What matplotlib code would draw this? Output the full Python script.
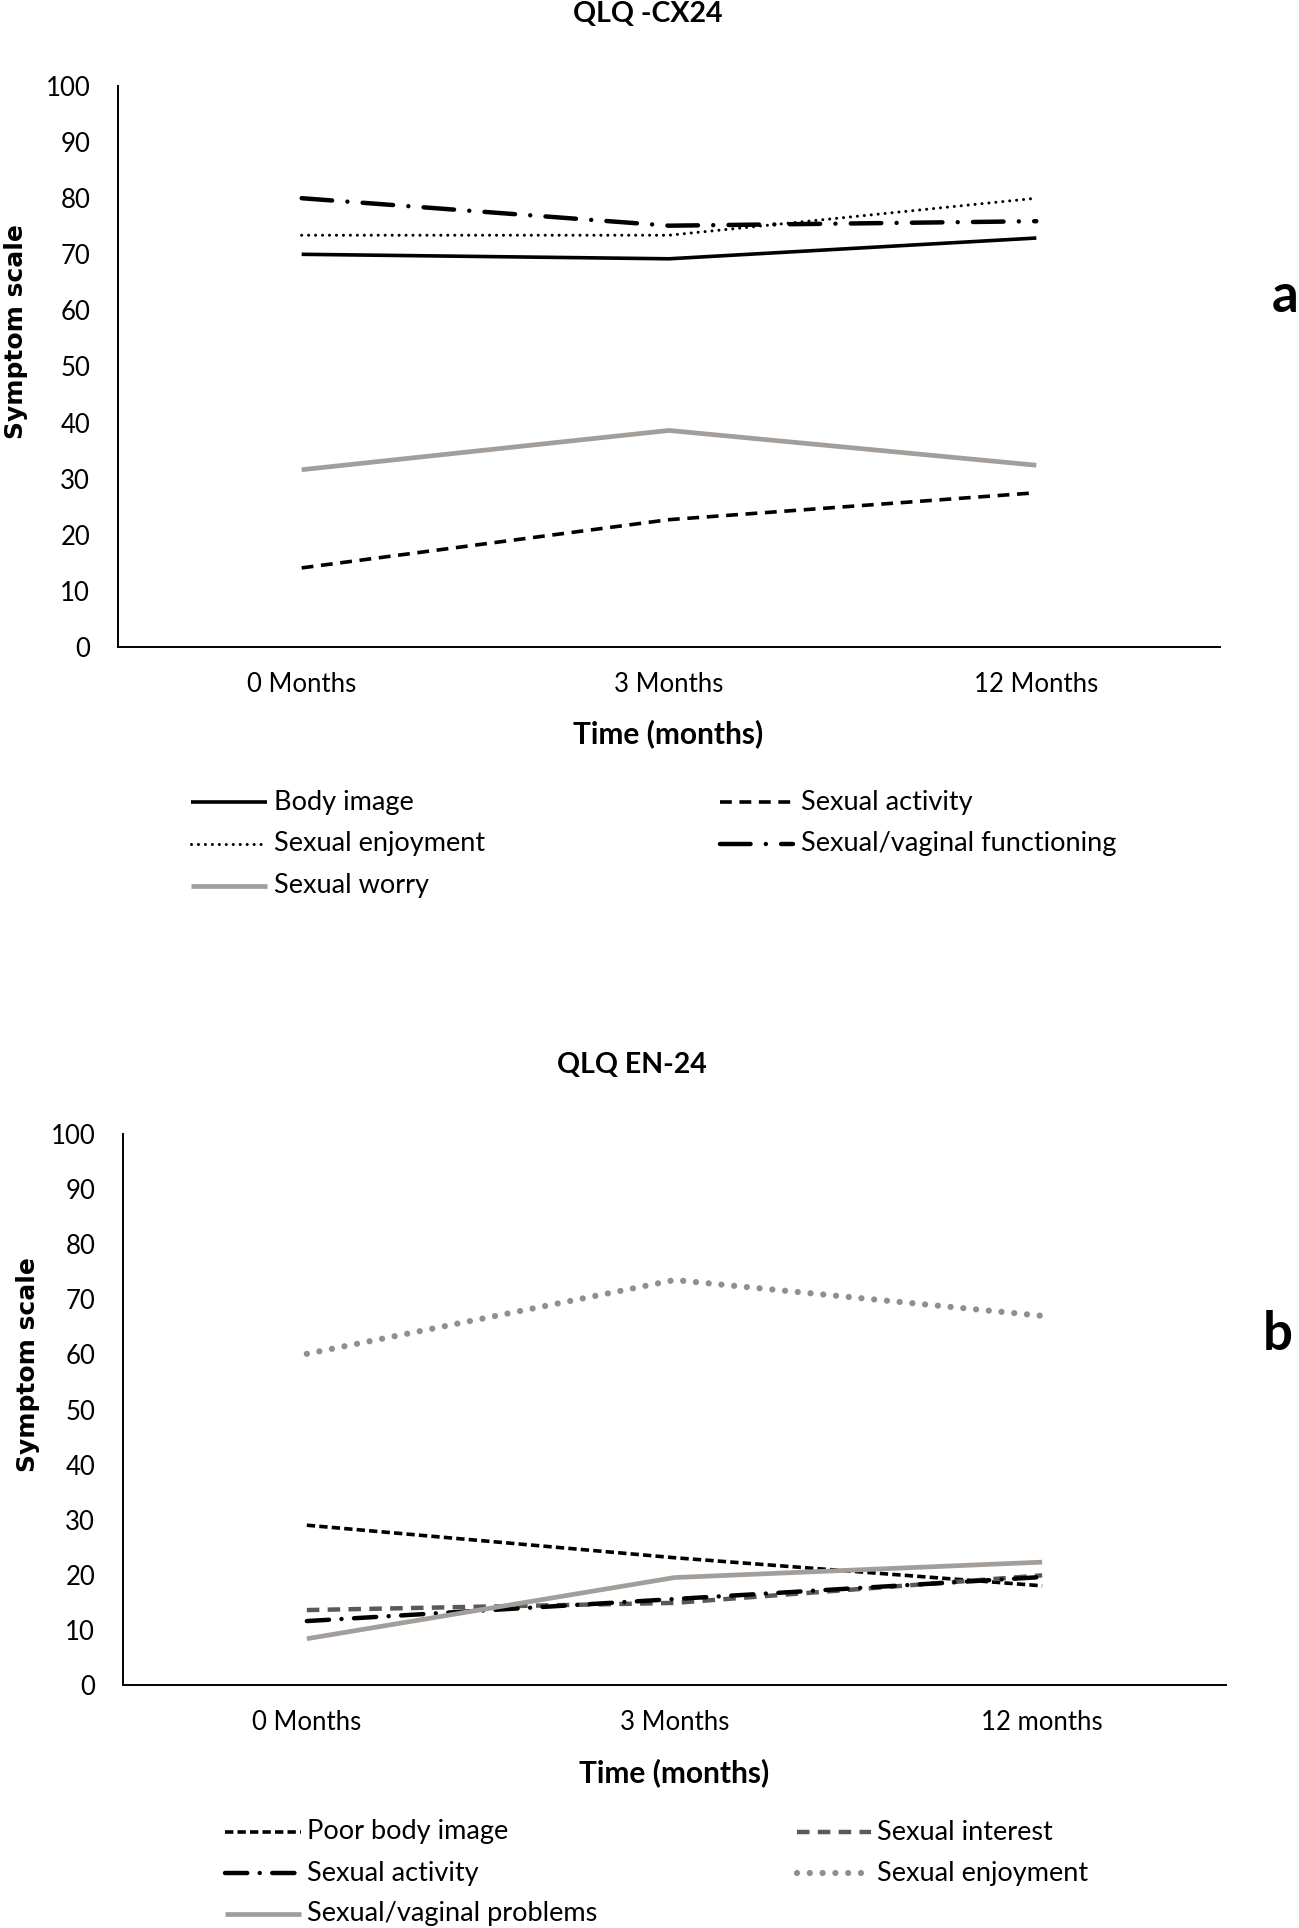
import matplotlib
matplotlib.use("Agg")
import matplotlib.pyplot as plt
from matplotlib.lines import Line2D

plt.rcParams['font.family'] = ['Lato', 'DejaVu Sans']
plt.rcParams['lines.scale_dashes'] = False

# ---------------- data ----------------
cats_a = ["0 Months", "3 Months", "12 Months"]
body_image_a = [70.0, 69.2, 72.9]
sexual_activity_a = [14.1, 22.7, 27.5]
sexual_enjoyment_a = [73.4, 73.4, 80.0]
sexual_vaginal_functioning_a = [80.0, 75.1, 75.9]
sexual_worry_a = [31.6, 38.6, 32.4]

cats_b = ["0 Months", "3 Months", "12 months"]
poor_body_image_b = [29.0, 23.1, 18.0]
sexual_interest_b = [13.6, 14.9, 19.9]
sexual_activity_b = [11.6, 15.6, 19.6]
sexual_enjoyment_b = [60.1, 73.5, 67.0]
sexual_vaginal_problems_b = [8.4, 19.5, 22.3]

yticks = list(range(0, 101, 10))

GREY = "#a39e9a"

W, H = 1299, 1928
fig = plt.figure(figsize=(W / 100, H / 100), dpi=100)


def fx(px):
    return px / W


def fy(py):
    return 1 - py / H


styles_a = [
    ("Body image", body_image_a, dict(color="black", lw=2.6, ls="-")),
    ("Sexual activity", sexual_activity_a, dict(color="black", lw=2.6, dashes=(8.5, 5.5))),
    ("Sexual enjoyment", sexual_enjoyment_a, dict(color="black", lw=2.2, dashes=(0.01, 5.0), dash_capstyle="round")),
    ("Sexual/vaginal functioning", sexual_vaginal_functioning_a,
     dict(color="black", lw=3.2, dashes=(22, 11, 0.01, 11), dash_capstyle="round")),
    ("Sexual worry", sexual_worry_a, dict(color=GREY, lw=3.4, ls="-")),
]

styles_b = [
    ("Poor body image", poor_body_image_b, dict(color="black", lw=2.6, dashes=(6, 3))),
    ("Sexual interest", sexual_interest_b, dict(color="#595959", lw=3.2, dashes=(9, 6))),
    ("Sexual activity", sexual_activity_b,
     dict(color="black", lw=3.2, dashes=(16, 9, 0.01, 9), dash_capstyle="round")),
    ("Sexual enjoyment", sexual_enjoyment_b,
     dict(color="#8f8f8f", lw=4.5, dashes=(0.01, 9.2), dash_capstyle="round")),
    ("Sexual/vaginal problems", sexual_vaginal_problems_b, dict(color=GREY, lw=3.4, ls="-")),
]


def make_panel(rect, cats, series, title, title_xy, xlab_y, xlab_x, ylab_x, ylab_y,
               leg_rows, leg_cols, letter, letter_xy):
    ax = fig.add_axes(rect)
    x = list(range(len(cats)))
    for name, vals, st in series:
        ax.plot(x, vals, solid_capstyle="butt", **st)
    ax.set_xlim(-0.5, len(cats) - 0.5)
    ax.set_ylim(0, 100)
    ax.set_yticks(yticks)
    ax.set_xticks(x)
    ax.set_xticklabels(cats)
    ax.tick_params(axis="both", length=0, labelsize=18.5)
    ax.tick_params(axis="y", pad=20)
    ax.tick_params(axis="x", pad=18)
    for s in ["top", "right"]:
        ax.spines[s].set_visible(False)
    for s in ["left", "bottom"]:
        ax.spines[s].set_linewidth(1.4)
        ax.spines[s].set_color("black")
    fig.text(fx(title_xy[0]), fy(title_xy[1]), title, ha="center", va="center",
             fontsize=20.5, fontweight="bold")
    fig.text(fx(xlab_x), fy(xlab_y), "Time (months)", ha="center", va="center",
             fontsize=21.5, fontweight="bold")
    fig.text(fx(ylab_x), fy(ylab_y), "Symptom scale", ha="center", va="center",
             rotation=90, fontsize=18, fontweight="bold", family=["DejaVu Sans"])
    # legend
    for i, (name, vals, st) in enumerate(series):
        r, c = divmod(i, 2)
        ly = fy(leg_rows[r])
        x0, x1, tx = leg_cols[c]
        fig.add_artist(Line2D([fx(x0), fx(x1)], [ly, ly], solid_capstyle="butt", **st))
        fig.text(fx(tx), ly, name, ha="left", va="center", fontsize=19.5)
    fig.text(fx(letter_xy[0]), fy(letter_xy[1]), letter, ha="left", va="center",
             fontsize=38, fontweight="bold")
    return ax


make_panel([fx(118), fy(647), fx(1220) - fx(118), fy(86) - fy(647)], cats_a, styles_a,
           "QLQ -CX24", (648, 14), 734, 668, 16, 332,
           [802, 844, 886], [(191, 267, 274), (720, 793, 801)], "a", (1272, 296))

make_panel([fx(123), fy(1685), fx(1226) - fx(123), fy(1134) - fy(1685)], cats_b, styles_b,
           "QLQ EN-24", (632, 1065), 1773, 674, 28, 1365,
           [1832, 1873, 1914], [(225, 301, 307), (797, 871, 877)], "b", (1263, 1334))

fig.savefig("out.png", dpi=100, facecolor="white")
